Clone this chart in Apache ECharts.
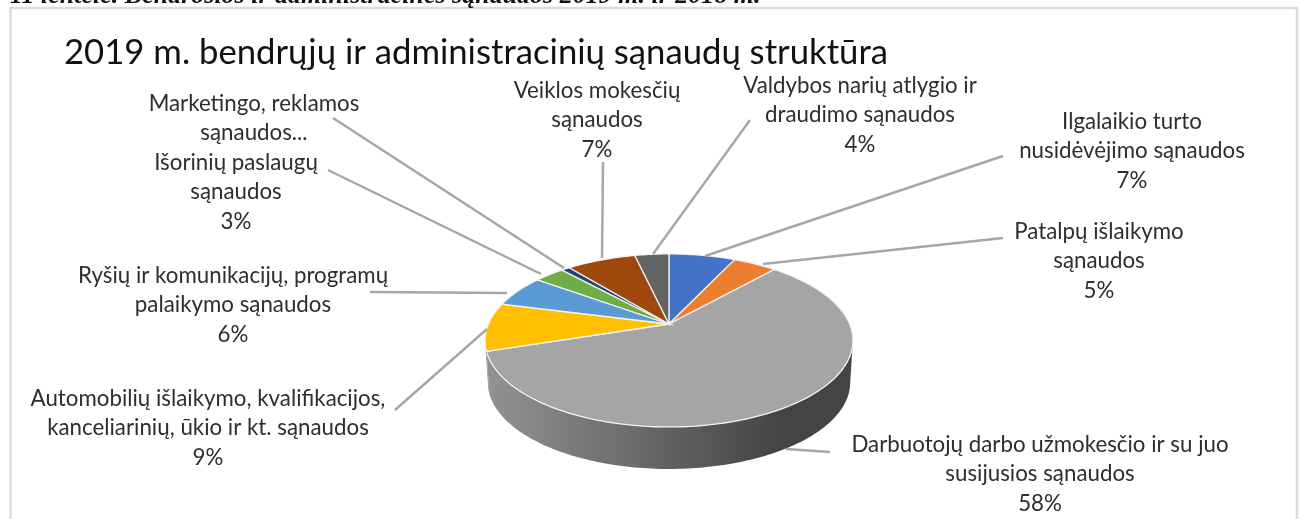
<!DOCTYPE html>
<html>
<head>
<meta charset="utf-8">
<style>
html,body{margin:0;padding:0;background:#fff;overflow:hidden}
#chart{position:absolute;left:0;top:0;width:1300px;height:519px}
</style>
<script src="https://cdn.jsdelivr.net/npm/echarts@6/dist/echarts.min.js"></script>
</head>
<body>
<div id="chart"></div>
<script>
var categories = [
    'Ilgalaikio turto\nnusidėvėjimo sąnaudos',
    'Patalpų išlaikymo\nsąnaudos',
    'Darbuotojų darbo užmokesčio ir su juo\nsusijusios sąnaudos',
    'Automobilių išlaikymo, kvalifikacijos,\nkanceliarinių, ūkio ir kt. sąnaudos',
    'Ryšių ir komunikacijų, programų\npalaikymo sąnaudos',
    'Išorinių paslaugų\nsąnaudos',
    'Marketingo, reklamos\nsąnaudos...',
    'Veiklos mokesčių\nsąnaudos',
    'Valdybos narių atlygio ir\ndraudimo sąnaudos'
];
// labels show them rounded
var values = [7, 4.6, 58.4, 9, 6, 3.2, 0.9, 7.3, 3.6];
var showPercent = [true, true, true, true, true, true, false, true, true];
var colors = ['#4472C4', '#ED7D31', '#A5A5A5', '#FFC000', '#5B9BD5', '#70AD47', '#264478', '#9E480E', '#636363'];

// label centre x, top y, and the two ends of each leader line
var labelX = [1132, 1099, 1040, 208, 233, 236, 254, 597, 860];
var labelY = [107, 217, 430, 384, 261, 148, 89, 76, 71];
var leaderBend = [[1003, 156], [1003, 238], [830, 452], [395, 410], [370, 292], [328, 170], [333, 118], [603, 162], [750, 120]];
var leaderStart = [[705, 256], [763, 264], [786, 449], [487, 329], [507, 293], [541, 274], [564, 268], [602, 258], [653, 254]];

// perspective of the tilted disc
var cx = 669, cy = 324, rx = 180.6, ry = 83.4, tilt = 0.19, depth = 42;
var total = values.reduce(function (a, b) { return a + b; }, 0);

function project(angle) {
    var u = Math.sin(angle), v = -Math.cos(angle), w = 1 - tilt * v;
    return [cx + rx * u / w, cy + ry * v / w];
}

function arcPoints(from, to) {
    var pts = [], n = Math.max(2, Math.ceil((to - from) / 0.02));
    for (var i = 0; i <= n; i++) pts.push(project(from + (to - from) * i / n));
    return pts;
}

function lower(p) {
    return [cx + (p[0] - cx) * 0.985, p[1] + depth];
}

function renderSlice(params, api) {
    var i = params.dataIndex, before = 0;
    for (var k = 0; k < i; k++) before += values[k];
    var a0 = before / total * 2 * Math.PI;
    var a1 = (before + api.value(1)) / total * 2 * Math.PI;
    var children = [];
    var frontFrom = Math.max(a0, Math.PI * 0.56), frontTo = Math.min(a1, Math.PI * 1.44);
    if (frontTo > frontFrom) {
        var edge = arcPoints(frontFrom, frontTo);
        children.push({
            type: 'polygon',
            shape: { points: edge.concat(edge.map(lower).reverse()) },
            style: {
                fill: new echarts.graphic.LinearGradient(486, 0, 853, 0, [
                    { offset: 0, color: '#939393' },
                    { offset: 0.45, color: '#666666' },
                    { offset: 0.8, color: '#444444' },
                    { offset: 1, color: '#444444' }
                ], true)
            }
        });
    }
    children.push({
        type: 'polygon',
        shape: { points: [[cx, cy]].concat(arcPoints(a0, a1)) },
        style: { fill: colors[i], stroke: '#f2f2f2', lineWidth: 1.3 }
    });
    children.push({
        type: 'polyline',
        shape: { points: [leaderStart[i], leaderBend[i]] },
        style: { fill: null, stroke: '#a6a6a6', lineWidth: 2.4 }
    });
    children.push({
        type: 'text',
        style: {
            x: labelX[i], y: labelY[i],
            text: categories[i] + (showPercent[i] ? '\n' + Math.round(api.value(1)) + '%' : ''),
            align: 'center', verticalAlign: 'top',
            font: '22.3px Lato', lineHeight: 29.5, fill: '#2e2e2e'
        }
    });
    return { type: 'group', children: children };
}

var chart = echarts.init(document.getElementById('chart'), null, { renderer: 'canvas' });
chart.setOption({
    animation: false,
    backgroundColor: '#ffffff',
    title: {
        text: '2019 m. bendrųjų ir administracinių sąnaudų struktūra',
        left: 59, top: 30,
        textStyle: { fontFamily: 'Lato', fontWeight: 'normal', fontSize: 34.7, color: '#111111' }
    },
    graphic: [
        { type: 'rect', shape: { x: 10.5, y: 8, width: 1286.5, height: 530 }, style: { fill: null, stroke: '#dcdcdc', lineWidth: 2.5 }, silent: true, z: -1 },
        { type: 'text', silent: true, style: { x: 10, y: -17, text: '11 lentelė. Bendrosios ir administracinės sąnaudos 2019 m. ir 2018 m.', font: 'italic bold 26px "Liberation Serif"', fill: '#111111' } }
    ],
    xAxis: { show: false, type: 'value' },
    yAxis: { show: false, type: 'value' },
    series: [{
        type: 'custom',
        coordinateSystem: 'none',
        renderItem: renderSlice,
        data: values.map(function (v, i) { return [i, v]; }),
        clip: false
    }]
});
</script>
</body>
</html>
